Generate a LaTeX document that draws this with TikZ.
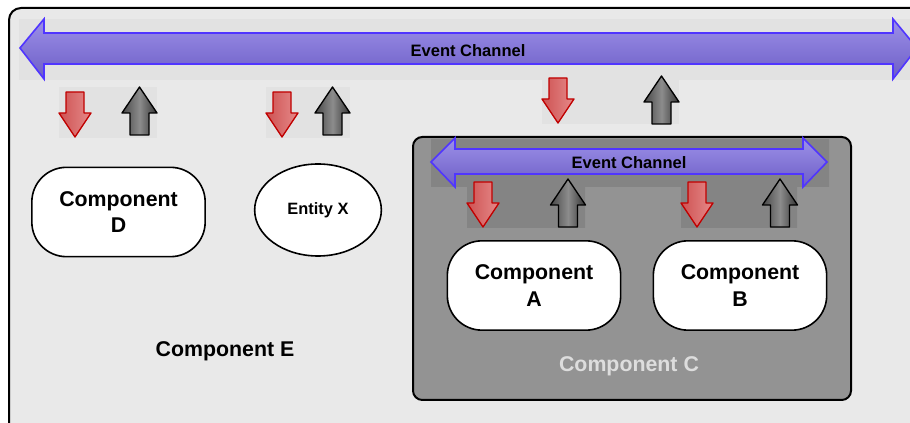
\documentclass[tikz,border=0pt]{standalone}
\usepackage{fontspec}
\setmainfont{Liberation Sans}
\usetikzlibrary{shapes.geometric}
\definecolor{boxE}{HTML}{E9E9E9}
\definecolor{stripE}{HTML}{E2E2E2}
\definecolor{boxC}{HTML}{939393}
\definecolor{stripC}{HTML}{848484}
\definecolor{chanTop}{HTML}{9C90E8}
\definecolor{chanBot}{HTML}{6D5EC6}
\definecolor{chanLine}{HTML}{5035FF}
\definecolor{redLine}{HTML}{C00000}
\definecolor{redDk}{HTML}{CE5252}
\definecolor{redLt}{HTML}{E58A8A}
\definecolor{labC}{HTML}{DDDDDD}
\tikzset{
  redarrow/.style={draw=redLine, line width=1pt, line join=round, left color=redDk, right color=redLt},
  grayarrow/.style={draw=black, line width=1pt, line join=round, left color=black!72, right color=black!80, middle color=black!45},
  chan/.style={draw=chanLine, line width=1.2pt, top color=chanTop, bottom color=chanBot},
  comp/.style={draw, line width=1.2pt, fill=white, rounded corners=26pt, minimum width=130pt, minimum height=67pt, align=center, font=\bfseries\fontsize{16}{20}\selectfont},
  entity/.style={ellipse, draw, line width=1.2pt, fill=white, inner sep=0pt, minimum width=95pt, minimum height=69pt, font=\bfseries\fontsize{12.3}{14}\selectfont},
  chanlabel/.style={font=\bfseries\fontsize{12.4}{14}\selectfont},
  boxlabel/.style={font=\bfseries\fontsize{16}{20}\selectfont}
}
\newcommand{\dnarr}[2]{\draw[redarrow] (#1-9,#2) -- (#1+9,#2) -- (#1+9,#2+21) -- (#1+16,#2+21) -- (#1,#2+45) -- (#1-16,#2+21) -- (#1-9,#2+21) -- cycle;}
\newcommand{\uparr}[2]{\draw[grayarrow] (#1-9.5,#2) -- (#1+9.5,#2) -- (#1+9.5,#2-22) -- (#1+17.5,#2-22) -- (#1,#2-48) -- (#1-17.5,#2-22) -- (#1-9.5,#2-22) -- cycle;}
\begin{document}
\begin{tikzpicture}[x=0.75pt, y=-0.75pt]
  \clip (0,0) rectangle (910,423);
  \fill[white] (0,0) rectangle (910,423);
  \draw[line width=1.5pt, fill=boxE, rounded corners=9pt] (9,8) rectangle (940,450);
  \fill[stripE] (19,19) rectangle (912,80);
  \fill[stripE] (59,87) rectangle (157,138);
  \fill[stripE] (266,87) rectangle (350,138);
  \fill[stripE] (542,79) rectangle (679,124);
  \draw[chan] (20,48) -- (44,19) -- (44,33) -- (893,33) -- (893,19) -- (917,48) -- (893,79) -- (893,64) -- (44,64) -- (44,79) -- cycle;
  \node[chanlabel] (evtop) at (468,51) {Event Channel};
  \dnarr{75}{92}
  \uparr{139.5}{135}
  \dnarr{282}{92}
  \uparr{332.5}{135}
  \dnarr{558}{78}
  \uparr{661.5}{124}
  \fill[boxC, rounded corners=7pt] (413,137) rectangle (851,400);
  \fill[stripC] (431,139) -- (829,139) -- (829,187) -- (797,187) -- (797,228) -- (681,228) -- (681,187) -- (585,187) -- (585,228) -- (467,228) -- (467,187) -- (431,187) -- cycle;
  \draw[line width=1.5pt, rounded corners=7pt] (413,137) rectangle (851,400);
  \draw[chan] (431,162) -- (455,138) -- (455,149) -- (803,149) -- (803,138) -- (827,162) -- (803,187) -- (803,174) -- (455,174) -- (455,187) -- cycle;
  \node[chanlabel] (evinner) at (629,163) {Event Channel};
  \dnarr{483}{182}
  \uparr{568}{227}
  \dnarr{697}{182}
  \uparr{780}{227}
  \node[comp] (compD) at (118.5,212) {Component\\D};
  \node[entity] (entX) at (318,210) {Entity X};
  \node[comp] (compA) at (534,285.5) {Component\\A};
  \node[comp] (compB) at (740,285.5) {Component\\B};
  \node[boxlabel] (labE) at (225,351) {Component E};
  \node[boxlabel, text=labC] (labC) at (629,366) {Component C};
\end{tikzpicture}
\end{document}
